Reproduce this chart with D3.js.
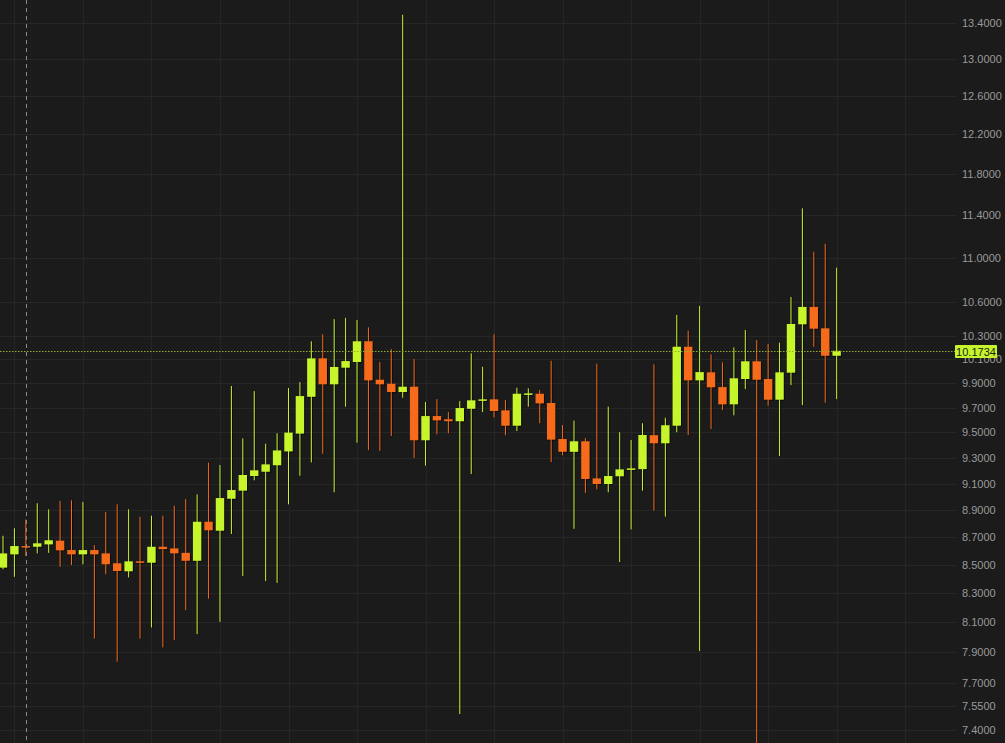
<!DOCTYPE html>
<html>
<head>
<meta charset="utf-8">
<script src="https://cdn.jsdelivr.net/npm/d3@7"></script>
<style>
  html, body { margin: 0; padding: 0; background: #1b1b1b; }
  svg { display: block; }
</style>
</head>
<body>
<svg id="chart" width="1005" height="743"></svg>
<script>
// ---- data ----
const opens = [8.48,8.575,8.635,8.63,8.647,8.674,8.606,8.575,8.606,8.582,
  8.511,8.454,8.525,8.515,8.63,8.618,8.586,8.529,8.813,8.747,
  8.985,9.046,9.158,9.191,9.241,9.349,9.49,9.788,10.109,9.891,
  10.03,10.078,10.255,9.929,9.896,9.827,9.871,9.437,9.631,9.605,
  9.589,9.69,9.759,9.767,9.677,9.553,9.804,9.813,9.737,9.447,
  9.346,9.429,9.14,9.097,9.156,9.206,9.211,9.477,9.413,9.553,
  10.208,9.924,9.991,9.868,9.726,9.935,10.084,9.935,9.764,9.988,
  10.402,10.555,10.367,10.131];
const highs = [8.71,8.765,8.83,8.951,8.906,8.968,8.973,8.961,8.642,8.886,
  8.943,8.906,8.851,8.858,8.858,8.933,8.983,9.018,9.261,9.243,
  9.877,9.453,9.835,9.41,9.493,9.86,9.91,10.255,10.316,10.448,
  10.459,10.439,10.376,10.078,10.188,13.49,10.103,9.745,9.769,9.663,
  9.753,10.152,10.038,10.316,9.761,9.863,9.858,9.844,10.089,9.559,
  9.594,9.455,10.064,9.707,9.501,9.439,9.573,10.059,9.617,10.485,
  10.347,10.564,10.143,10.075,10.203,10.353,10.266,10.232,10.243,10.644,
  11.466,11.056,11.13,10.909];
const lows = [8.468,8.415,8.563,8.582,8.586,8.486,8.499,8.504,7.99,8.434,
  7.836,8.411,7.99,8.065,7.931,7.979,8.183,8.02,8.262,8.103,
  8.723,8.42,9.125,8.386,8.372,8.943,9.16,9.264,9.331,9.034,
  9.707,9.418,9.36,9.354,9.471,9.78,9.298,9.238,9.485,9.493,
  7.499,9.173,9.663,9.62,9.477,9.511,9.707,9.573,9.266,9.319,
  8.761,9.03,9.056,9.034,8.52,8.757,9.046,8.896,8.851,9.501,
  9.479,7.907,9.527,9.68,9.637,9.852,7.28,9.715,9.313,9.885,
  9.72,10.208,9.739,9.769];
const closes = [8.582,8.635,8.631,8.655,8.677,8.604,8.575,8.606,8.575,8.504,
  8.456,8.525,8.518,8.63,8.613,8.582,8.529,8.813,8.75,8.99,
  9.051,9.166,9.202,9.248,9.357,9.498,9.794,10.109,9.891,10.036,
  10.086,10.255,9.924,9.891,9.827,9.871,9.437,9.631,9.596,9.589,
  9.696,9.759,9.767,9.672,9.553,9.813,9.816,9.734,9.442,9.346,
  9.429,9.135,9.097,9.158,9.209,9.217,9.479,9.413,9.557,10.208,
  9.924,9.993,9.866,9.726,9.941,10.084,9.929,9.764,9.991,10.405,
  10.555,10.364,10.131,10.1734];
const tickValues = [13.4,13.0,12.6,12.2,11.8,11.4,11.0,10.6,10.3,10.1,9.9,9.7,9.5,9.3,9.1,8.9,8.7,8.5,8.3,8.1,7.9,7.7,7.55,7.4];
const lastPrice = 10.1734;
const crosshairIndex = 2;
const gridEvery = 6, gridStart = 1;

// ---- layout / style ----
const W = 1005, H = 743, plotRight = 956;
const UP = "#c6f52c", DOWN = "#f66b1b";
const svg = d3.select("#chart");
svg.append("rect").attr("width", W).attr("height", H).attr("fill", "#1b1b1b");

const n = closes.length;
const x = d3.scaleLinear().domain([0, n - 1]).range([3, 836.66]);
const y = d3.scaleLog().domain([7.4, 13.4]).range([729.9, 22.7]);

// horizontal grid
svg.append("g").selectAll("line").data(tickValues).join("line")
  .attr("x1", 0).attr("x2", plotRight)
  .attr("y1", d => Math.round(y(d)) + 0.5).attr("y2", d => Math.round(y(d)) + 0.5)
  .attr("stroke", "#262626").attr("stroke-width", 1);

// vertical grid
const vIdx = d3.range(gridStart, 100, gridEvery).filter(i => x(i) < plotRight);
svg.append("g").selectAll("line").data(vIdx).join("line")
  .attr("x1", d => Math.round(x(d)) + 0.5).attr("x2", d => Math.round(x(d)) + 0.5)
  .attr("y1", 0).attr("y2", H)
  .attr("stroke", "#262626").attr("stroke-width", 1);

// y axis (right)
const axis = d3.axisRight(y).tickValues(tickValues).tickFormat(d3.format(".4f")).tickSize(0).tickPadding(6);
const ag = svg.append("g").attr("transform", `translate(${plotRight},0)`).call(axis);
ag.select(".domain").remove();
ag.selectAll("text").attr("fill", "#9a9a9a").attr("font-size", 11)
  .attr("font-family", "'Liberation Sans', Arial, sans-serif");

// candles
const data = d3.range(n).map(i => ({ i, o: opens[i], h: highs[i], l: lows[i], c: closes[i] }));
const bw = 8.4;
const g = svg.append("g");
const cg = g.selectAll("g").data(data).join("g");
// shadows
cg.append("line")
  .attr("x1", d => x(d.i) + 1).attr("x2", d => x(d.i) + 1)
  .attr("y1", d => y(d.h)).attr("y2", d => y(d.l))
  .attr("stroke", "#000").attr("stroke-opacity", 0.6).attr("stroke-width", 1);
cg.append("rect")
  .attr("x", d => x(d.i) - bw / 2 + 1)
  .attr("y", d => y(Math.max(d.o, d.c)) + 1)
  .attr("width", bw)
  .attr("height", d => Math.max(1.5, Math.abs(y(d.o) - y(d.c))))
  .attr("fill", "#000").attr("fill-opacity", 0.6);
// wicks
cg.append("line")
  .attr("x1", d => x(d.i)).attr("x2", d => x(d.i))
  .attr("y1", d => y(d.h)).attr("y2", d => y(d.l))
  .attr("stroke", d => d.c >= d.o ? UP : DOWN).attr("stroke-width", 1);
// bodies
cg.append("rect")
  .attr("x", d => x(d.i) - bw / 2)
  .attr("y", d => y(Math.max(d.o, d.c)))
  .attr("width", bw)
  .attr("height", d => Math.max(1.5, Math.abs(y(d.o) - y(d.c))))
  .attr("fill", d => d.c >= d.o ? UP : DOWN);

// crosshair (dashed vertical)
svg.append("line")
  .attr("x1", Math.round(x(crosshairIndex)) + 0.5).attr("x2", Math.round(x(crosshairIndex)) + 0.5)
  .attr("y1", 0).attr("y2", H)
  .attr("stroke", "#8c8c8c").attr("stroke-width", 1).attr("stroke-dasharray", "4,4");

// last price line
const ly = Math.round(y(lastPrice)) + 0.5;
svg.append("line").attr("x1", 0).attr("x2", plotRight).attr("y1", ly).attr("y2", ly)
  .attr("stroke", "#94b02a").attr("stroke-width", 1).attr("stroke-dasharray", "1.5,1.5");
svg.append("rect").attr("x", 955).attr("y", ly - 6.5).attr("width", 42).attr("height", 13)
  .attr("fill", UP).attr("rx", 1);
svg.append("text").attr("x", 976).attr("y", ly + 4).attr("text-anchor", "middle")
  .attr("font-size", 11).attr("fill", "#1b1b1b")
  .attr("font-family", "'Liberation Sans', Arial, sans-serif")
  .text(lastPrice.toFixed(4));
</script>
</body>
</html>
